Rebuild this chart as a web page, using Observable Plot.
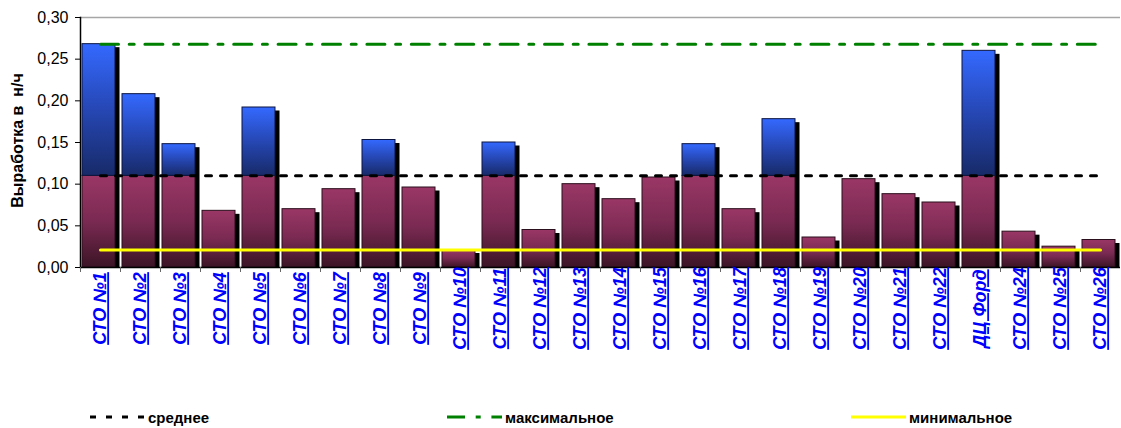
<!DOCTYPE html>
<html>
<head>
<meta charset="utf-8">
<script src="https://cdn.jsdelivr.net/npm/d3@7"></script>
<script src="https://cdn.jsdelivr.net/npm/@observablehq/plot@0.6"></script>
<style>
  body { margin: 0; background: #fff; font-family: "Liberation Sans", Arial, sans-serif; }
  #chart svg { display: block; }
  #chart g[aria-label="x-axis tick label"],
  #chart g[aria-label="x-axis tick label"] text { text-anchor: middle; }
  #chart g[aria-label="x-axis tick label"] text { text-decoration: underline; }
  .legend { position: relative; width: 1121px; height: 33px; }
  .item { position: absolute; top: 14px; height: 16px; display: flex; align-items: center;
          font-weight: bold; font-size: 15px; color: #000; white-space: nowrap; }
  .item svg { display: block; margin-right: 3px; }
</style>
</head>
<body>
<div id="chart"></div>
<div class="legend" id="legend"></div>
<script>
// Service stations and their output (норма-часы)
const categories = [
  "СТО №1", "СТО №2", "СТО №3", "СТО №4", "СТО №5", "СТО №6", "СТО №7", "СТО №8", "СТО №9",
  "СТО №10", "СТО №11", "СТО №12", "СТО №13", "СТО №14", "СТО №15", "СТО №16", "СТО №17",
  "СТО №18", "СТО №19", "СТО №20", "СТО №21", "СТО №22", "ДЦ Форд", "СТО №24", "СТО №25", "СТО №26"
];
const values = [
  0.268, 0.208, 0.148, 0.068, 0.192, 0.070, 0.094, 0.153, 0.096,
  0.021, 0.150, 0.045, 0.100, 0.082, 0.108, 0.148, 0.070,
  0.178, 0.036, 0.106, 0.088, 0.078, 0.260, 0.043, 0.025, 0.033
];
// Reference levels
const averageValue = 0.11;
const maxValue = 0.268;
const minValue = 0.021;

const yTicks = [0, 0.05, 0.10, 0.15, 0.20, 0.25, 0.30];
const yTitle = "Выработка в \u00a0н/ч";
const legendLabels = ["среднее", "максимальное", "минимальное"];

const rows = categories.map((name, i) => ({name, value: values[i]}));

const W = 1121, H = 395, ML = 80, MR = 1, MT = 17, MB = 128;
const step = (W - ML - MR) / categories.length;
const barInset = {insetLeft: 2, insetRight: 5};

const chart = Plot.plot({
  width: W,
  height: H,
  marginLeft: ML,
  marginRight: MR,
  marginTop: MT,
  marginBottom: MB,
  style: {fontFamily: "'Liberation Sans', Arial, sans-serif", background: "#fff", overflow: "visible"},
  x: {domain: categories, padding: 0, label: null},
  y: {domain: [0, 0.30], label: null},
  marks: [
    Plot.ruleY([0.30], {stroke: "#a6a6a6", strokeWidth: 1.5}),
    // drop shadow behind each bar
    Plot.barY(rows, {x: "name", y1: 0, y2: "value", fill: "#000", ...barInset, dx: 4.5, dy: 3.5, clip: true}),
    // part up to the average
    Plot.barY(rows, {x: "name", y1: 0, y2: d => Math.min(d.value, averageValue),
      fill: "url(#maroonFill)", stroke: "#2b0f1d", strokeWidth: 1, ...barInset}),
    // part above the average
    Plot.barY(rows.filter(d => d.value > averageValue), {x: "name", y1: averageValue, y2: "value",
      fill: "url(#blueFill)", stroke: "#0c1540", strokeWidth: 1, ...barInset}),
    Plot.ruleY([0], {stroke: "#000", strokeWidth: 1.5}),
    Plot.frame({anchor: "left", stroke: "#000", strokeWidth: 1.5}),
    Plot.axisY({ticks: yTicks, tickFormat: d => d.toFixed(2).replace(".", ","), tickSize: 5,
      tickPadding: 7, fontSize: 16, stroke: "#000", label: null}),
    Plot.axisX({tickSize: 5, tickFormat: () => "", dx: -step / 2, stroke: "#666", label: null}),
    Plot.axisX({tickSize: 0, tickPadding: 41, tickRotate: -90, fontSize: 18, fontWeight: "bold",
      fontStyle: "italic", fill: "#0000ff", label: null}),
    Plot.text([yTitle], {frameAnchor: "left", textAnchor: "middle", rotate: -90, dx: -63, dy: -2,
      fontSize: 16, fontWeight: "bold", fill: "#000"}),
    // average, maximum and minimum levels
    Plot.lineY(rows, {x: "name", y: () => averageValue, stroke: "#000", strokeWidth: 3,
      strokeDasharray: "6,9"}),
    Plot.lineY(rows, {x: "name", y: () => maxValue, stroke: "#008000", strokeWidth: 3,
      strokeDasharray: "18,10.7,5,10.7"}),
    Plot.lineY(rows, {x: "name", y: () => minValue, stroke: "#ffff00", strokeWidth: 3})
  ]
});

// vertical gradients used by the bar segments
const svg = d3.select(chart);
const defs = svg.insert("defs", ":first-child");
function gradient(id, stops) {
  const g = defs.append("linearGradient").attr("id", id)
    .attr("x1", 0).attr("y1", 0).attr("x2", 0).attr("y2", 1);
  stops.forEach(([o, c]) => g.append("stop").attr("offset", o).attr("stop-color", c));
}
gradient("maroonFill", [[0, "#9a3766"], [0.5, "#7a2a52"], [1, "#3c1426"]]);
gradient("blueFill", [[0, "#3469ff"], [0.5, "#2647b4"], [1, "#172a68"]]);

document.getElementById("chart").appendChild(chart);

// legend under the chart
const legendItems = [
  {label: legendLabels[0], left: 90, stroke: "#000", dash: "6,10"},
  {label: legendLabels[1], left: 447, stroke: "#008000", dash: "18,10.7,5,10.7"},
  {label: legendLabels[2], left: 851, stroke: "#ffff00", dash: null}
];
const legend = d3.select("#legend");
for (const it of legendItems) {
  const item = legend.append("div").attr("class", "item").style("left", it.left + "px");
  const s = item.append("svg").attr("width", 55).attr("height", 6);
  const ln = s.append("line").attr("x1", 0).attr("x2", 55).attr("y1", 3).attr("y2", 3)
    .attr("stroke", it.stroke).attr("stroke-width", 3);
  if (it.dash) ln.attr("stroke-dasharray", it.dash);
  item.append("span").text(it.label);
}
</script>
</body>
</html>
